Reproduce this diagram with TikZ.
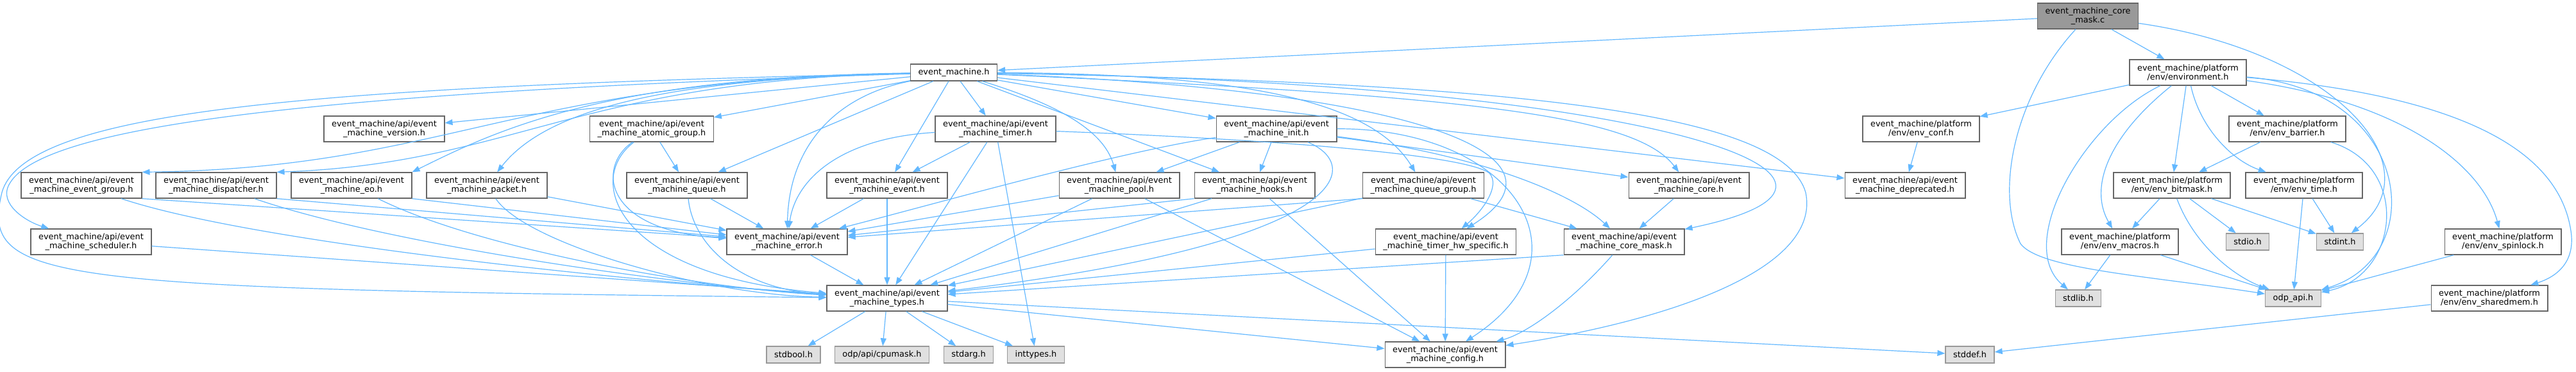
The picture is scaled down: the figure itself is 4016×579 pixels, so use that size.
\documentclass[tikz,border=0pt]{standalone}
\usepackage{fontspec}
\setmainfont{DejaVu Sans}
\usetikzlibrary{arrows.meta}
\definecolor{edgeblue}{HTML}{63B8FF}
\definecolor{boxline}{HTML}{666666}
\definecolor{sysline}{HTML}{999999}
\definecolor{sysfill}{HTML}{E0E0E0}
\definecolor{rootfill}{HTML}{999999}

\begin{document}
\begin{tikzpicture}[x=1pt, y=-1pt,
    every node/.style={font=\fontsize{12.9}{14}\selectfont, align=center, inner xsep=12pt, inner ysep=2pt},
    hdr/.style={draw=boxline, line width=1.3pt, fill=white, minimum height=40pt},
    sys/.style={draw=sysline, line width=1.3pt, fill=sysfill, minimum height=26pt},
    rootfile/.style={draw=boxline, line width=1.3pt, fill=rootfill, minimum height=40pt},
    dep/.style={draw=edgeblue, line width=1.2pt, -{Triangle[length=12pt,width=9pt]}}]
    \path [fill=white, use as bounding box] (0,0) rectangle (4016,579);

    \node (cmask) [rootfile] at (3255,25) {event\_machine\_core\\\_mask.c};
    \node (emh) [hdr, minimum height=26pt] at (1487,113) {event\_machine.h};
    \node (env) [hdr] at (3411,113) {event\_machine/platform\\/env/environment.h};

    \node (version) [hdr] at (599,201) {event\_machine/api/event\\\_machine\_version.h};
    \node (atomic) [hdr] at (1016,201) {event\_machine/api/event\\\_machine\_atomic\_group.h};
    \node (timer) [hdr] at (1552,201) {event\_machine/api/event\\\_machine\_timer.h};
    \node (init) [hdr] at (1990,201) {event\_machine/api/event\\\_machine\_init.h};
    \node (envconf) [hdr] at (2995,201) {event\_machine/platform\\/env/env\_conf.h};
    \node (barrier) [hdr] at (3566,201) {event\_machine/platform\\/env/env\_barrier.h};

    \node (evgroup) [hdr] at (127,289) {event\_machine/api/event\\\_machine\_event\_group.h};
    \node (dispatcher) [hdr] at (337,289) {event\_machine/api/event\\\_machine\_dispatcher.h};
    \node (eo) [hdr] at (548,289) {event\_machine/api/event\\\_machine\_eo.h};
    \node (packet) [hdr] at (759,289) {event\_machine/api/event\\\_machine\_packet.h};
    \node (queue) [hdr] at (1071,289) {event\_machine/api/event\\\_machine\_queue.h};
    \node (event) [hdr] at (1383,289) {event\_machine/api/event\\\_machine\_event.h};
    \node (pool) [hdr] at (1745,289) {event\_machine/api/event\\\_machine\_pool.h};
    \node (hooks) [hdr] at (1956,289) {event\_machine/api/event\\\_machine\_hooks.h};
    \node (qgroup) [hdr] at (2219,289) {event\_machine/api/event\\\_machine\_queue\_group.h};
    \node (core) [hdr] at (2633,289) {event\_machine/api/event\\\_machine\_core.h};
    \node (deprecated) [hdr] at (2970,289) {event\_machine/api/event\\\_machine\_deprecated.h};
    \node (bitmask) [hdr] at (3386,289) {event\_machine/platform\\/env/env\_bitmask.h};
    \node (envtime) [hdr] at (3592,289) {event\_machine/platform\\/env/env\_time.h};

    \node (scheduler) [hdr] at (142,377) {event\_machine/api/event\\\_machine\_scheduler.h};
    \node (error) [hdr] at (1227,377) {event\_machine/api/event\\\_machine\_error.h};
    \node (timerhw) [hdr] at (2254,377) {event\_machine/api/event\\\_machine\_timer\_hw\_specific.h};
    \node (coremask) [hdr] at (2532,377) {event\_machine/api/event\\\_machine\_core\_mask.h};
    \node (macros) [hdr] at (3305,377) {event\_machine/platform\\/env/env\_macros.h};
    \node (stdio) [sys] at (3504,377) {stdio.h};
    \node (stdint) [sys] at (3648,377) {stdint.h};
    \node (spinlock) [hdr] at (3902,377) {event\_machine/platform\\/env/env\_spinlock.h};

    \node (types) [hdr] at (1383,465) {event\_machine/api/event\\\_machine\_types.h};
    \node (stdlib) [sys] at (3240,465) {stdlib.h};
    \node (odpapi) [sys] at (3575,465) {odp\_api.h};
    \node (sharedmem) [hdr] at (3881,465) {event\_machine/platform\\/env/env\_sharedmem.h};

    \node (stdbool) [sys] at (1237,553) {stdbool.h};
    \node (cpumask) [sys] at (1375,553) {odp/api/cpumask.h};
    \node (stdarg) [sys] at (1510,553) {stdarg.h};
    \node (inttypes) [sys] at (1615,553) {inttypes.h};
    \node (config) [hdr] at (2253,553) {event\_machine/api/event\\\_machine\_config.h};
    \node (stddef) [sys] at (3071,553) {stddef.h};

    \draw [dep] (cmask) -- (emh);
    \draw [dep] (cmask) -- (env);
    \draw [dep] (cmask) .. controls (3140,150) and (3110,300) .. (3150,380) .. controls (3180,420) and (3350,430) .. (odpapi);
    \draw [dep] (cmask) .. controls (3640,80) and (3800,260) .. (stdint);

    \draw [dep] (emh) -- (version);
    \draw [dep] (emh) .. controls (800,125) and (700,262) .. (evgroup.north east);
    \draw [dep] (emh) .. controls (900,125) and (800,255) .. (dispatcher.north east);
    \draw [dep] (emh) .. controls (950,120) and (780,200) .. (eo.north east);
    \draw [dep] (emh) .. controls (1080,122) and (860,160) .. (packet);
    \draw [dep] (emh) -- (atomic);
    \draw [dep] (emh) -- (queue);
    \draw [dep] (emh) .. controls (1300,150) and (1230,230) .. (error);
    \draw [dep] (emh) -- (event);
    \draw [dep] (emh) -- (timer);
    \draw [dep] (emh) .. controls (1640,160) and (1720,200) .. (pool);
    \draw [dep] (emh) -- (hooks);
    \draw [dep] (emh) -- (init);
    \draw [dep] (emh) .. controls (1950,115) and (2140,160) .. (qgroup);
    \draw [dep] (emh) .. controls (2200,140) and (2470,240) .. (timerhw);
    \draw [dep] (emh) .. controls (2300,150) and (2550,180) .. (core);
    \draw [dep] (emh) .. controls (2600,130) and (3000,280) .. (coremask);
    \draw [dep] (emh) -- (deprecated);
    \draw [dep] (emh) .. controls (2400,130) and (2780,180) .. (2815,300) .. controls (2840,420) and (2600,500) .. (config);
    \draw [dep] (emh) .. controls (450,145) and (60,200) .. (14,288) .. controls (-2,318) and (40,345) .. (scheduler);
    \draw [dep] (emh) .. controls (500,135) and (40,170) .. (3,300) .. controls (-30,440) and (60,450) .. (types);

    \draw [dep] (atomic) -- (queue);
    \draw [dep] (atomic) .. controls (930,260) and (940,360) .. (error);
    \draw [dep] (atomic) .. controls (910,280) and (960,430) .. (types);
    \draw [dep] (queue) -- (error);
    \draw [dep] (queue) .. controls (1080,380) and (1150,450) .. (types);
    \draw [dep] (timer) -- (event);
    \draw [dep] (timer) .. controls (1310,215) and (1240,280) .. (error);
    \draw [dep] (timer) -- (types);
    \draw [dep] (timer) -- (inttypes);
    \draw [dep] (timer) .. controls (2050,220) and (2290,245) .. (2322,270) .. controls (2340,290) and (2310,330) .. (timerhw);
    \draw [dep] (event) -- (error);
    \draw [dep] (event) -- (types);
    \draw [dep] (init) -- (pool);
    \draw [dep] (init) -- (hooks);
    \draw [dep] (init) .. controls (1750,235) and (1450,320) .. (error);
    \draw [dep] (init) .. controls (2130,260) and (2100,380) .. (types);
    \draw [dep] (init) -- (core);
    \draw [dep] (init) .. controls (2300,240) and (2450,300) .. (coremask);
    \draw [dep] (init) .. controls (2360,200) and (2490,400) .. (config);
    \draw [dep] (pool) -- (error);
    \draw [dep] (pool) -- (types);
    \draw [dep] (pool) -- (config);
    \draw [dep] (hooks.south west) -- (error);
    \draw [dep] (hooks) -- (types);
    \draw [dep] (hooks) -- (config);
    \draw [dep] (qgroup.south west) -- (error);
    \draw [dep] (qgroup) -- (types);
    \draw [dep] (qgroup) -- (coremask);
    \draw [dep] (core) -- (coremask);
    \draw [dep] (coremask.south west) -- (types);
    \draw [dep] (coremask) .. controls (2450,470) and (2380,520) .. (config);
    \draw [dep] (timerhw) -- (types);
    \draw [dep] (timerhw) -- (config);
    \draw [dep] (error) -- (types);

    \draw [dep] (evgroup.south east) -- (error);
    \draw [dep] (evgroup) .. controls (400,380) and (1000,440) .. (types);
    \draw [dep] (dispatcher.south east) -- (error);
    \draw [dep] (dispatcher) .. controls (600,380) and (1050,445) .. (types);
    \draw [dep] (eo.south east) -- (error);
    \draw [dep] (eo) .. controls (750,390) and (1100,450) .. (types);
    \draw [dep] (packet) -- (error);
    \draw [dep] (packet) .. controls (820,380) and (1100,460) .. (types);
    \draw [dep] (scheduler) -- (types);

    \draw [dep] (types) -- (stdbool);
    \draw [dep] (types) -- (cpumask);
    \draw [dep] (types) -- (stdarg);
    \draw [dep] (types) -- (inttypes);
    \draw [dep] (types) -- (config);
    \draw [dep] (types) -- (stddef);

    \draw [dep] (env) -- (envconf);
    \draw [dep] (env) -- (barrier);
    \draw [dep] (env) -- (bitmask);
    \draw [dep] (env) .. controls (3430,200) and (3480,250) .. (envtime);
    \draw [dep] (env) .. controls (3290,210) and (3255,290) .. (macros);
    \draw [dep] (env) .. controls (3250,190) and (3140,380) .. (stdlib);
    \draw [dep] (env) .. controls (3760,140) and (3790,400) .. (odpapi);
    \draw [dep] (env) .. controls (3750,160) and (3870,260) .. (spinlock);
    \draw [dep] (env) .. controls (3850,150) and (3990,240) .. (4008,360) .. controls (4015,405) and (3990,430) .. (sharedmem);
    \draw [dep] (envconf) -- (deprecated);
    \draw [dep] (barrier) -- (bitmask);
    \draw [dep] (barrier) .. controls (3760,260) and (3740,430) .. (odpapi);
    \draw [dep] (bitmask) -- (macros);
    \draw [dep] (bitmask) .. controls (3420,380) and (3480,430) .. (odpapi);
    \draw [dep] (bitmask) -- (stdio);
    \draw [dep] (bitmask) -- (stdint);
    \draw [dep] (envtime) -- (odpapi);
    \draw [dep] (envtime) -- (stdint);
    \draw [dep] (macros) -- (stdlib);
    \draw [dep] (macros) -- (odpapi);
    \draw [dep] (spinlock) -- (odpapi);
    \draw [dep] (sharedmem) -- (stddef);
\end{tikzpicture}
\end{document}
